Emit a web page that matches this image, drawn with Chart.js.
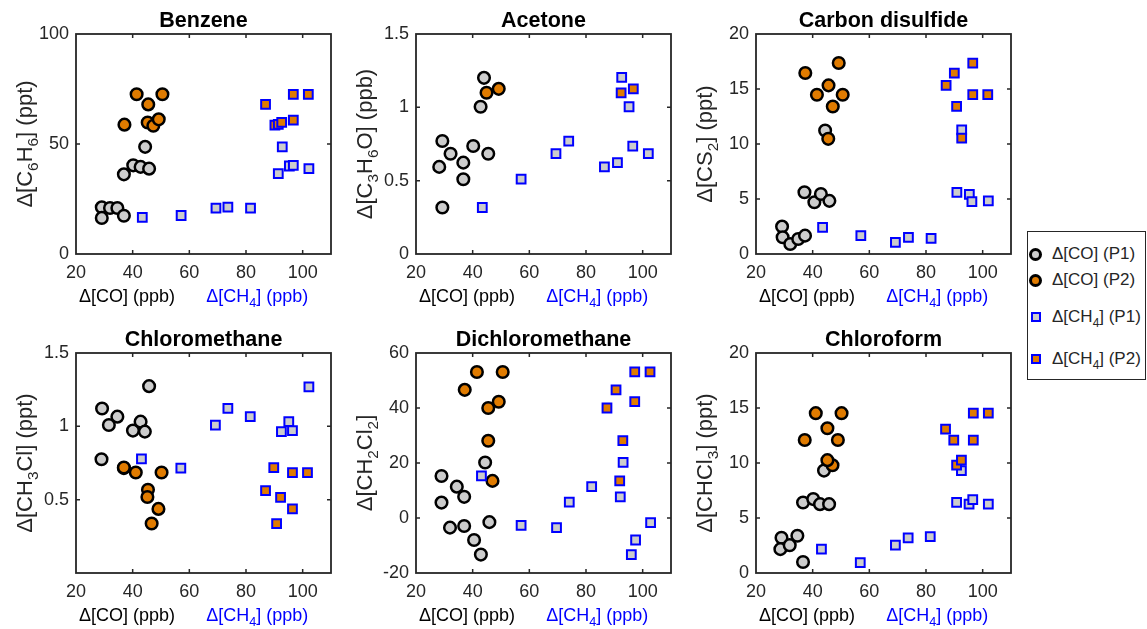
<!DOCTYPE html>
<html>
<head>
<meta charset="utf-8">
<script src="https://cdn.jsdelivr.net/npm/chart.js@4.4.0/dist/chart.umd.min.js"></script>
<style>
    body { margin: 0; background: #fff; width: 1147px; height: 629px; position: relative; overflow: hidden; font-family: "Liberation Sans", Arial, sans-serif; }
    canvas { position: absolute; }
    #legend { position: absolute; left: 1027px; top: 231px; width: 119px; height: 149px; box-sizing: border-box; border: 1.5px solid #262626; background: #fff; }
    .item { position: absolute; left: 0; font-size: 17px; color: #262626; line-height: 20px; white-space: nowrap; }
    .item span.txt { position: absolute; left: 24px; top: -10px; }
    .item sub { font-size: 0.7em; vertical-align: -0.4em; line-height: 0; }
    .mk { position: absolute; box-sizing: border-box; }
    .circ { left: 1px; width: 13px; height: 13px; top: -6px; border-radius: 50%; border: 3px solid #000; }
    .sq { left: 3px; width: 10px; height: 10px; top: -5px; border: 2px solid #0000ff; }
</style>
</head>
<body>
<canvas id="c0" width="340" height="314" style="left:0px;top:0px"></canvas>
<canvas id="c1" width="340" height="314" style="left:340px;top:0px"></canvas>
<canvas id="c2" width="340" height="314" style="left:680px;top:0px"></canvas>
<canvas id="c3" width="340" height="314" style="left:0px;top:315px"></canvas>
<canvas id="c4" width="340" height="314" style="left:340px;top:315px"></canvas>
<canvas id="c5" width="340" height="314" style="left:680px;top:315px"></canvas>

<div id="legend">
    <div class="item" style="top:22px"><span class="mk circ" style="background:#cccccc"></span><span class="txt">Δ[CO] (P1)</span></div>
    <div class="item" style="top:48px"><span class="mk circ" style="background:#e07b00"></span><span class="txt">Δ[CO] (P2)</span></div>
    <div class="item" style="top:85px"><span class="mk sq" style="background:#cccccc"></span><span class="txt">Δ[CH<sub>4</sub>] (P1)</span></div>
    <div class="item" style="top:127px"><span class="mk sq" style="background:#e07b00"></span><span class="txt">Δ[CH<sub>4</sub>] (P2)</span></div>
</div>

<script>
// x axis shared by all panels
const xTicks = [20, 40, 60, 80, 100];

// Benzene
const benzeneCO_P1 = [[29.1,21.2],[32,20.9],[34.6,20.9],[29.1,16.4],[36.9,17.4],[36.9,36.2],[40.2,40.3],[42.8,39.6],[45.8,38.8],[44.4,48.7]];
const benzeneCO_P2 = [[41.4,72.6],[50.5,72.6],[45.5,68],[37.1,58.8],[45.3,59.8],[47.3,58.3],[49.2,61.2]];
const benzeneCH4_P1 = [[43.4,16.7],[57.1,17.5],[69.4,20.9],[73.6,21.3],[81.6,20.9],[91.4,36.5],[92.8,48.7],[95.3,40],[96.7,40.3],[102.2,38.8]];
const benzeneCH4_P2 = [[86.9,68],[96.7,72.6],[102,72.6],[96.7,60.9],[90.2,58.6],[91.4,58.9],[92.6,59.8]];
const benzeneTicks = [0, 50, 100];

// Acetone
const acetoneCO_P1 = [[29.3,0.77],[28.2,0.594],[32.2,0.684],[36.7,0.623],[36.7,0.51],[29.3,0.317],[40.2,0.736],[45.5,0.684],[42.8,1.004],[44,1.201]];
const acetoneCO_P2 = [[44.9,1.099],[49.2,1.126]];
const acetoneCH4_P1 = [[43.4,0.317],[57.1,0.51],[69.4,0.684],[73.9,0.77],[86.5,0.594],[91.1,0.623],[96.5,0.736],[102,0.684],[95.2,1.004],[92.6,1.205]];
const acetoneCH4_P2 = [[92.4,1.099],[96.7,1.126]];
const acetoneTicks = [0, 0.5, 1, 1.5];

// Carbon disulfide
const cs2CO_P1 = [[29.2,2.49],[29.4,1.52],[32.1,0.91],[34.9,1.37],[37.3,1.67],[37.1,5.61],[40.6,4.7],[42.9,5.46],[45.9,4.83],[44.4,11.23]];
const cs2CO_P2 = [[37.4,16.45],[49.2,17.36],[41.5,14.48],[45.6,15.33],[50.6,14.48],[47.1,13.41],[45.5,10.47]];
const cs2CH4_P1 = [[43.5,2.43],[57,1.67],[69.2,1.06],[73.8,1.52],[81.8,1.43],[90.9,5.61],[95.3,5.43],[96.2,4.76],[102,4.83],[92.6,11.29]];
const cs2CH4_P2 = [[87.1,15.33],[90,16.45],[96.5,17.36],[96.5,14.48],[101.8,14.48],[90.8,13.41],[92.6,10.53]];
const cs2Ticks = [0, 5, 10, 15, 20];

// Chloromethane
const ch3clCO_P1 = [[29.2,1.122],[31.6,1.009],[34.6,1.066],[29,0.776],[40.1,0.971],[42.8,1.032],[44.3,0.964],[45.8,1.274],[36.9,0.715]];
const ch3clCO_P2 = [[36.9,0.719],[41.1,0.685],[50.2,0.685],[45.4,0.568],[45.2,0.518],[49.1,0.437],[46.7,0.337]];
const ch3clCH4_P1 = [[43.1,0.778],[57,0.715],[69.2,1.009],[73.6,1.122],[81.5,1.066],[92.5,0.964],[95.1,1.032],[96.4,0.971],[102.2,1.269]];
const ch3clCH4_P2 = [[89.8,0.719],[86.9,0.561],[92.2,0.516],[96.4,0.685],[101.7,0.685],[96.4,0.437],[90.8,0.337]];
const ch3clTicks = [0.5, 1, 1.5];

// Dichloromethane
const ch2cl2CO_P1 = [[29,15.3],[29,5.6],[34.4,11.4],[37,7.7],[32,-3.5],[37,-2.9],[40.5,-8],[42.9,-13.3],[45.9,-1.5],[44.4,20.2]];
const ch2cl2CO_P2 = [[41.5,53.1],[50.6,53.1],[37.2,46.6],[45.5,40],[49.2,42.3],[45.5,28.1],[47,13.5]];
const ch2cl2CH4_P1 = [[43.1,15.3],[57.1,-2.7],[69.6,-3.5],[74.1,5.8],[82,11.4],[92.1,7.7],[93.1,20.2],[97.5,-8],[96,-13.3],[102.8,-1.7]];
const ch2cl2CH4_P2 = [[87.4,40],[90.6,46.6],[97.2,53.1],[102.6,53.1],[97.2,42.3],[93,28.1],[91.9,13.5]];
const ch2cl2Ticks = [-20, 0, 20, 40, 60];

// Chloroform
const chcl3CO_P1 = [[29,3.2],[28.6,2.17],[31.9,2.53],[34.6,3.39],[36.6,1],[36.6,6.41],[40.2,6.72],[42.6,6.26],[45.8,6.26],[44,9.31]];
const chcl3CO_P2 = [[41.1,14.53],[50.2,14.53],[37.2,12.09],[45.2,13.16],[48.9,12.09],[47,9.8],[45.2,10.26]];
const chcl3CH4_P1 = [[43.1,2.17],[56.8,0.95],[69.2,2.53],[73.7,3.2],[81.5,3.3],[90.8,6.41],[95.2,6.26],[96.5,6.66],[102,6.26],[92.5,9.31]];
const chcl3CH4_P2 = [[86.9,13.07],[89.8,12.09],[96.7,14.53],[102,14.53],[96.7,12.09],[90.8,9.8],[92.5,10.26]];
const chcl3Ticks = [0, 5, 10, 15, 20];

const GREY = '#cccccc';
const ORANGE = '#e07b00';
const AXIS = '#262626';
const FONT = '"Liberation Sans", Arial, sans-serif';

// draws text where "_x" means subscript x
function drawRich(ctx, str, x, y, size, color) {
    const parts = [];
    for (let i = 0; i < str.length; i++) {
        if (str[i] === '_') { parts.push([str[i + 1], true]); i++; }
        else parts.push([str[i], false]);
    }
    const subSize = size * 0.7;
    let total = 0;
    parts.forEach(p => {
        ctx.font = (p[1] ? subSize : size) + 'px ' + FONT;
        total += ctx.measureText(p[0]).width;
    });
    let cx = x - total / 2;
    ctx.fillStyle = color;
    ctx.textAlign = 'left';
    ctx.textBaseline = 'alphabetic';
    parts.forEach(p => {
        ctx.font = (p[1] ? subSize : size) + 'px ' + FONT;
        ctx.fillText(p[0], cx, p[1] ? y + size * 0.27 : y);
        cx += ctx.measureText(p[0]).width;
    });
}

// MATLAB-like box, inward ticks and labels
const matlabAxes = {
    id: 'matlabAxes',
    afterDraw(chart, args, opts) {
        const ctx = chart.ctx;
        const a = chart.chartArea;
        const xs = chart.scales.x, ys = chart.scales.y;
        ctx.save();
        ctx.strokeStyle = AXIS;
        ctx.lineWidth = 1.8;
        ctx.strokeRect(a.left, a.top, a.right - a.left, a.bottom - a.top);

        ctx.lineWidth = 1.5;
        ctx.beginPath();
        xTicks.forEach(v => {
            const px = xs.getPixelForValue(v);
            if (px <= a.left + 1 || px >= a.right - 1) return;
            ctx.moveTo(px, a.bottom); ctx.lineTo(px, a.bottom - 4);
            ctx.moveTo(px, a.top); ctx.lineTo(px, a.top + 4);
        });
        opts.yTicks.forEach(v => {
            const py = ys.getPixelForValue(v);
            if (py <= a.top + 1 || py >= a.bottom - 1) return;
            ctx.moveTo(a.left, py); ctx.lineTo(a.left + 4, py);
            ctx.moveTo(a.right, py); ctx.lineTo(a.right - 4, py);
        });
        ctx.stroke();

        // title
        ctx.fillStyle = '#000';
        ctx.font = 'bold 21.5px ' + FONT;
        ctx.textAlign = 'center';
        ctx.textBaseline = 'middle';
        ctx.fillText(opts.title, (a.left + a.right) / 2, a.top - 13);

        // y label
        ctx.save();
        ctx.translate(a.left - 44, (a.top + a.bottom) / 2);
        ctx.rotate(-Math.PI / 2);
        drawRich(ctx, opts.ylabel, 0, 0, 22, AXIS);
        ctx.restore();

        // x labels
        drawRich(ctx, 'Δ[CO] (ppb)', xs.getPixelForValue(38), a.bottom + 48, 18, '#000');
        drawRich(ctx, 'Δ[CH_4] (ppb)', xs.getPixelForValue(84), a.bottom + 48, 18, '#0000ff');
        ctx.restore();
    }
};

function toXY(arr) {
    return arr.map(p => ({ x: p[0], y: p[1] }));
}

function makePanel(id, title, ylabel, series, yMin, yMax, yTicks, topPad) {
    const circle = { pointStyle: 'circle', pointRadius: 5.8, borderColor: '#000', pointBorderWidth: 2.5 };
    const square = { pointStyle: 'rect', pointRadius: 6.2, borderColor: '#0000ff', pointBorderWidth: 2 };
    new Chart(document.getElementById(id), {
        type: 'scatter',
        data: {
            datasets: [
                Object.assign({ label: 'Δ[CO] (P1)', data: toXY(series[0]), backgroundColor: GREY, order: 4 }, circle),
                Object.assign({ label: 'Δ[CO] (P2)', data: toXY(series[1]), backgroundColor: ORANGE, order: 3 }, circle),
                Object.assign({ label: 'Δ[CH4] (P1)', data: toXY(series[2]), backgroundColor: GREY, order: 2 }, square),
                Object.assign({ label: 'Δ[CH4] (P2)', data: toXY(series[3]), backgroundColor: ORANGE, order: 1 }, square)
            ]
        },
        options: {
            responsive: false,
            animation: false,
            layout: { padding: { top: topPad, right: 9, left: 0, bottom: 0 } },
            plugins: {
                legend: { display: false },
                tooltip: { enabled: false },
                matlabAxes: { title: title, ylabel: ylabel, yTicks: yTicks }
            },
            scales: {
                x: {
                    type: 'linear', min: 20, max: 110,
                    afterBuildTicks: s => { s.ticks = xTicks.map(v => ({ value: v })); },
                    afterFit: s => { s.height = 314 - 220 - topPad; },
                    grid: { display: false, drawTicks: false },
                    border: { display: false },
                    ticks: { color: AXIS, font: { family: FONT, size: 18 }, padding: 8, maxRotation: 0, autoSkip: false, callback: v => String(v) }
                },
                y: {
                    type: 'linear', min: yMin, max: yMax,
                    afterBuildTicks: s => { s.ticks = yTicks.map(v => ({ value: v })); },
                    afterFit: s => { s.width = 76; },
                    grid: { display: false, drawTicks: false },
                    border: { display: false },
                    ticks: { color: AXIS, font: { family: FONT, size: 18 }, padding: 7, autoSkip: false, callback: v => String(v) }
                }
            }
        },
        plugins: [matlabAxes]
    });
}

makePanel('c0', 'Benzene', 'Δ[C_6H_6] (ppt)', [benzeneCO_P1, benzeneCO_P2, benzeneCH4_P1, benzeneCH4_P2], 0, 100, benzeneTicks, 34);
makePanel('c1', 'Acetone', 'Δ[C_3H_6O] (ppb)', [acetoneCO_P1, acetoneCO_P2, acetoneCH4_P1, acetoneCH4_P2], 0, 1.5, acetoneTicks, 34);
makePanel('c2', 'Carbon disulfide', 'Δ[CS_2] (ppt)', [cs2CO_P1, cs2CO_P2, cs2CH4_P1, cs2CH4_P2], 0, 20, cs2Ticks, 34);
makePanel('c3', 'Chloromethane', 'Δ[CH_3Cl] (ppt)', [ch3clCO_P1, ch3clCO_P2, ch3clCH4_P1, ch3clCH4_P2], 0, 1.5, ch3clTicks, 38);
makePanel('c4', 'Dichloromethane', 'Δ[CH_2Cl_2]', [ch2cl2CO_P1, ch2cl2CO_P2, ch2cl2CH4_P1, ch2cl2CH4_P2], -20, 60, ch2cl2Ticks, 38);
makePanel('c5', 'Chloroform', 'Δ[CHCl_3] (ppt)', [chcl3CO_P1, chcl3CO_P2, chcl3CH4_P1, chcl3CH4_P2], 0, 20, chcl3Ticks, 38);
</script>
</body>
</html>
